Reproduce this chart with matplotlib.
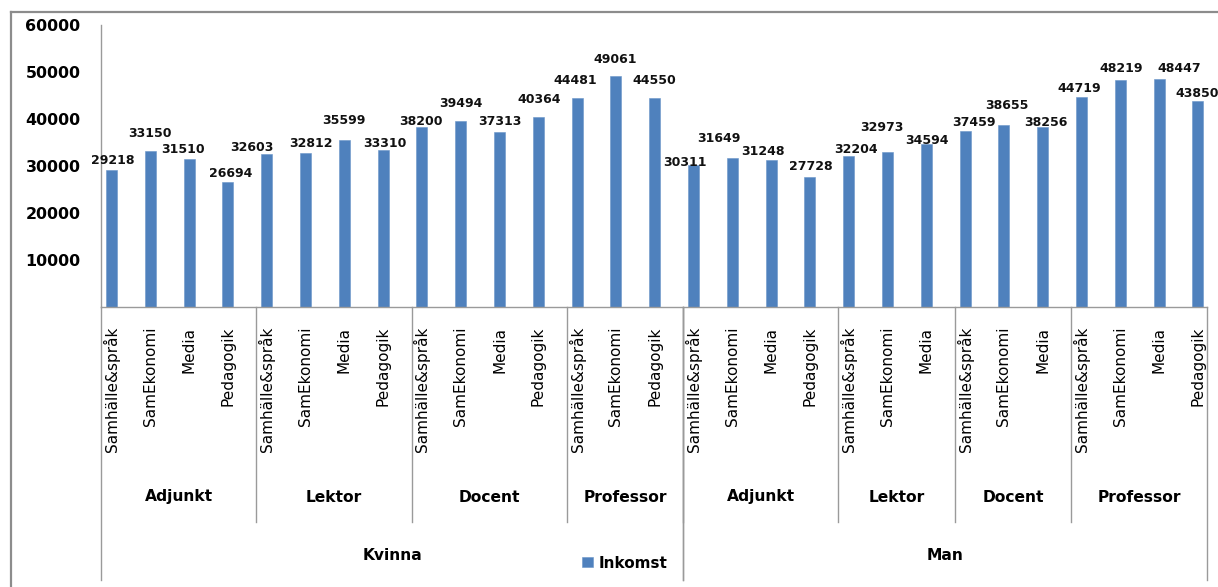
import numpy as np
import matplotlib
matplotlib.use("Agg")
from matplotlib import pyplot as plt
from matplotlib import font_manager
from matplotlib.transforms import blended_transform_factory
from matplotlib.lines import Line2D

# Inkomst per kön, befattning och ämne
kon = ["Kvinna"] * 15 + ["Man"] * 14
befattning = (["Adjunkt"] * 4 + ["Lektor"] * 4 + ["Docent"] * 4 + ["Professor"] * 3
              + ["Adjunkt"] * 4 + ["Lektor"] * 3 + ["Docent"] * 3 + ["Professor"] * 4)
amne = ["Samhälle&språk", "SamEkonomi", "Media", "Pedagogik",
        "Samhälle&språk", "SamEkonomi", "Media", "Pedagogik",
        "Samhälle&språk", "SamEkonomi", "Media", "Pedagogik",
        "Samhälle&språk", "SamEkonomi", "Pedagogik",
        "Samhälle&språk", "SamEkonomi", "Media", "Pedagogik",
        "Samhälle&språk", "SamEkonomi", "Media",
        "Samhälle&språk", "SamEkonomi", "Media",
        "Samhälle&språk", "SamEkonomi", "Media", "Pedagogik"]
inkomst = [29218, 33150, 31510, 26694,
           32603, 32812, 35599, 33310,
           38200, 39494, 37313, 40364,
           44481, 49061, 44550,
           30311, 31649, 31248, 27728,
           32204, 32973, 34594,
           37459, 38655, 38256,
           44719, 48219, 48447, 43850]

# nudges for the value labels (pixels, dy measured from bar top to label centre)
label_dx = [1, 0, -6, 2.5, -15, 5, 0, 1.5, -1, 0.5, 0.5, 1, -1.5, -1, 0,
            -8.5, -13.5, -8.5, 0.5, 7.5, -6, 0.5, 8.5, 3, 3.5, -2.5, 1, 20, -1]
label_dy = [10.5, 19, 10, 9, 7.5, 10, 20, 8, 6.5, 18.5, 11.5, 19, 18.5, 18, 18.5,
            3.5, 21, 9.5, 11, 7, 26, 5, 9.5, 21, 6, 9, 13, 12, 8]

W, H = 1218, 587
BLUE = "#4F81BD"
GRID = "#9a9a9a"

names = {f.name for f in font_manager.fontManager.ttflist}
if "Liberation Sans Narrow" in names:
    narrow, narrow_size = "Liberation Sans Narrow", 14
else:
    narrow, narrow_size = "DejaVu Sans", 11

fig = plt.figure(figsize=(W / 100, H / 100), dpi=100)
ax = fig.add_axes([101.3 / W, (H - 307) / H, (1206.7 - 101.3) / W, (307 - 25) / H])

x = np.arange(len(inkomst)) + 0.263
bars = ax.bar(x, inkomst, width=0.283, color=BLUE, edgecolor="#6a95c8", linewidth=0.4)

ax.set_xlim(0, 28.49)
ax.set_ylim(0, 60000)
ax.set_xticks([])
ax.set_yticks(range(10000, 60001, 10000))
ax.set_yticklabels([str(v) for v in range(10000, 60001, 10000)],
                   fontsize=11.4, fontweight="bold", family="DejaVu Sans")
ax.tick_params(axis="y", length=0, pad=15)
for side in ["top", "right"]:
    ax.spines[side].set_visible(False)
for side in ["left", "bottom"]:
    ax.spines[side].set_color(GRID)
    ax.spines[side].set_linewidth(1.0)

# value labels above the bars
for xi, v, dx, dy in zip(x, inkomst, label_dx, label_dy):
    ax.annotate(str(v), xy=(xi, v), xytext=(dx, dy - 4.5), textcoords="offset pixels",
                ha="center", va="baseline", fontsize=9, fontweight="bold",
                family="DejaVu Sans", color="#111111", annotation_clip=False)

fy = lambda y: 1 - y / H
tr = blended_transform_factory(ax.transData, fig.transFigure)

# subject labels, rotated
for xi, a in zip(x, amne):
    ax.text(xi, fy(327), a, transform=tr, rotation=90, ha="center", va="top",
            fontsize=narrow_size, family=narrow, color="black", clip_on=False)


def runs(keys):
    out, start = [], 0
    for i in range(1, len(keys) + 1):
        if i == len(keys) or keys[i] != keys[start]:
            out.append((start, i, keys[start][-1]))
            start = i
    return out


xmax = ax.get_xlim()[1]
pairs = list(zip(kon, befattning))
for s, e, name in runs(pairs):
    e_vis = min(e, xmax)
    ax.text((s + e_vis) / 2, fy(497), name, transform=tr, ha="center", va="center",
            fontsize=11.2, fontweight="bold", family="DejaVu Sans", clip_on=False)
    if e < len(pairs):
        ax.add_line(Line2D([e, e], [fy(307), fy(522)], transform=tr, color=GRID,
                           lw=1.0, clip_on=False))

for s, e, name in runs([(k,) for k in kon]):
    e_vis = min(e, xmax)
    ax.text((s + e_vis) / 2, fy(556), name, transform=tr, ha="center", va="center",
            fontsize=11.2, fontweight="bold", family="DejaVu Sans", clip_on=False)
    for b in (s, e_vis):
        ax.add_line(Line2D([b, b], [fy(307), fy(580)], transform=tr, color=GRID,
                           lw=1.0, clip_on=False))

ax.legend([bars], ["Inkomst"], loc="center left", bbox_to_anchor=(582 / W, fy(563)),
          bbox_transform=fig.transFigure, frameon=False, borderpad=0,
          borderaxespad=0, handlelength=0.72, handleheight=0.68,
          handletextpad=0.4, prop={"family": "DejaVu Sans", "weight": "bold", "size": 11})

# chart border
fig.add_artist(Line2D([11 / W, 11 / W], [0, fy(12)], color="#8c8c8c", lw=1.6))
fig.add_artist(Line2D([11 / W, 1], [fy(12), fy(12)], color="#8c8c8c", lw=1.6))

fig.savefig("out.png", dpi=100)
